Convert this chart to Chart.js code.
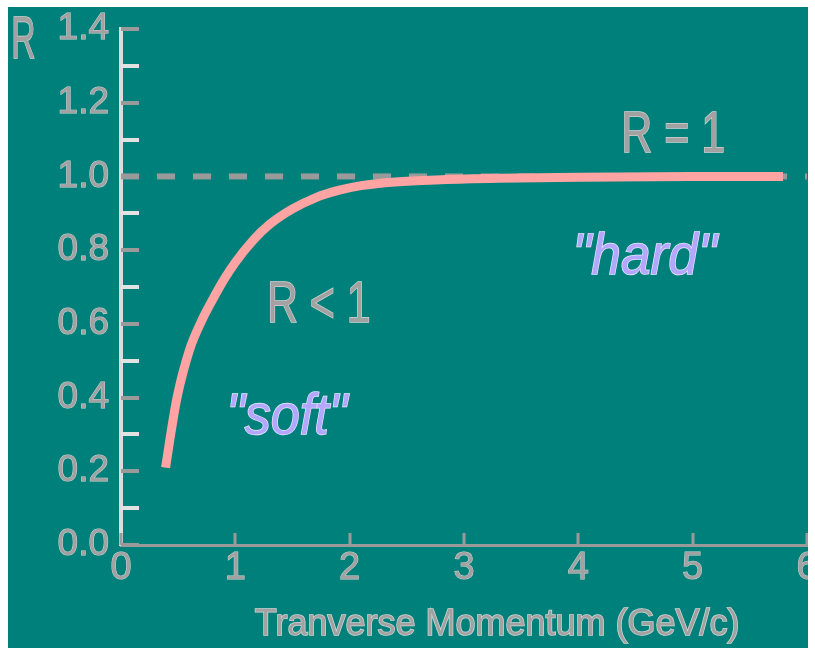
<!DOCTYPE html>
<html lang="en">
<head>
    <meta charset="UTF-8">
    <title>R vs Tranverse Momentum</title>
    <style>
        html, body {
            margin: 0;
            padding: 0;
            background-color: #ffffff;
        }

        #plot {
            position: absolute;
            left: 8px;
            top: 7px;
            width: 800px;
            height: 641px;
            background-color: #00807a;
        }
    </style>
    <script src="https://cdn.jsdelivr.net/npm/chart.js"></script>
</head>
<body>
    <div id="plot"><canvas id="ratioChart"></canvas></div>

    <script>
        // values
        const xTickLabels = ['0', '1', '2', '3', '4', '5', '6'];
        const yTickLabels = ['0.0', '0.2', '0.4', '0.6', '0.8', '1.0', '1.2', '1.4'];

        const curveX = [0.39, 0.45, 0.49, 0.60, 0.70, 0.80, 0.90, 1.00, 1.15, 1.30, 1.50, 1.70, 1.90, 2.10, 2.40, 2.80, 3.30, 4.00, 5.00, 5.79];
        const curveY = [0.21, 0.33, 0.40, 0.53, 0.605, 0.665, 0.72, 0.767, 0.825, 0.87, 0.912, 0.942, 0.962, 0.975, 0.985, 0.991, 0.995, 0.998, 1.0, 1.0];

        const refX = [0, 6];
        const refY = [1, 1];

        const noteText = ['R', 'R = 1', 'R < 1', '"soft"', '"hard"', 'Tranverse Momentum (GeV/c)'];
        const noteX = [-0.853, 4.83, 1.73, 1.45, 4.58, 3.29];
        const noteY = [1.366, 1.11, 0.648, 0.345, 0.78, -0.217];

        const GRAY = '#a2a2a2';
        const GRAY_EDGE = '#d4d4d4';
        const PURPLE = '#b3a7ff';
        const PURPLE_EDGE = '#ece8ff';

        // font / colour / squeeze for each note, same order as noteText
        const noteStyle = [
            { size: 60, italic: false, color: GRAY, edge: GRAY_EDGE, sx: 0.56 },
            { size: 58, italic: false, color: GRAY, edge: GRAY_EDGE, sx: 0.74 },
            { size: 58, italic: false, color: GRAY, edge: GRAY_EDGE, sx: 0.74 },
            { size: 58, italic: true, color: PURPLE, edge: PURPLE_EDGE, sx: 0.9 },
            { size: 58, italic: true, color: PURPLE, edge: PURPLE_EDGE, sx: 0.92 },
            { size: 36, italic: false, color: GRAY, edge: GRAY_EDGE, sx: 1 }
        ];

        const FONT = "'Liberation Sans', Arial, sans-serif";

        // tick marks drawn inside the plot, like the original
        const innerTicks = {
            id: 'innerTicks',
            beforeDatasetsDraw(chart) {
                const ctx = chart.ctx;
                const xs = chart.scales.x;
                const ys = chart.scales.y;
                ctx.save();
                ys.ticks.forEach(t => {
                    const py = Math.round(ys.getPixelForValue(t.value));
                    const major = yTickLabels.includes(t.value.toFixed(1));
                    ctx.fillStyle = major ? '#9a9a9a' : '#e2e2e2';
                    ctx.fillRect(ys.right, py - 2, 18, 4);
                });
                xs.ticks.forEach(t => {
                    const px = Math.round(xs.getPixelForValue(t.value));
                    ctx.fillStyle = '#9a9a9a';
                    ctx.fillRect(px - 1.5, xs.top - 12, 3, 12);
                });
                ctx.restore();
            }
        };

        const notes = {
            id: 'notes',
            afterDraw(chart) {
                const ctx = chart.ctx;
                const xs = chart.scales.x;
                const ys = chart.scales.y;
                noteText.forEach((txt, i) => {
                    const st = noteStyle[i];
                    ctx.save();
                    ctx.translate(xs.getPixelForValue(noteX[i]), ys.getPixelForValue(noteY[i]));
                    ctx.scale(st.sx, 1);
                    ctx.font = (st.italic ? 'italic ' : '') + st.size + 'px ' + FONT;
                    ctx.textAlign = 'center';
                    ctx.textBaseline = 'middle';
                    ctx.lineWidth = 1.5;
                    ctx.strokeStyle = st.edge;
                    ctx.strokeText(txt, 0, 0);
                    ctx.fillStyle = st.color;
                    ctx.fillText(txt, 0, 0);
                    ctx.restore();
                });
            }
        };

        new Chart(document.getElementById('ratioChart'), {
            type: 'line',
            data: {
                datasets: [
                    {
                        label: 'R',
                        data: curveX.map((x, i) => ({ x: x, y: curveY[i] })),
                        borderColor: '#ffa3a3',
                        borderWidth: 9,
                        borderCapStyle: 'butt',
                        cubicInterpolationMode: 'monotone',
                        pointRadius: 0,
                        fill: false
                    },
                    {
                        label: 'R = 1',
                        data: refX.map((x, i) => ({ x: x, y: refY[i] })),
                        borderColor: '#9a9a9a',
                        borderWidth: 6,
                        borderDash: [18, 18],
                        borderCapStyle: 'butt',
                        pointRadius: 0,
                        fill: false
                    }
                ]
            },
            options: {
                responsive: true,
                maintainAspectRatio: false,
                animation: false,
                layout: { padding: { top: 22, right: 1, left: 0, bottom: 0 } },
                plugins: {
                    legend: { display: false },
                    tooltip: { enabled: false }
                },
                scales: {
                    x: {
                        type: 'linear',
                        min: 0,
                        max: 6,
                        grid: { display: false },
                        border: { display: true, color: '#9a9a9a', width: 3 },
                        ticks: {
                            stepSize: 1,
                            autoSkip: false,
                            maxRotation: 0,
                            padding: -7,
                            color: GRAY,
                            textStrokeColor: GRAY_EDGE,
                            textStrokeWidth: 1,
                            font: { family: FONT, size: 38 },
                            callback: v => xTickLabels[v] ?? ''
                        },
                        afterFit(s) {
                            s.height = 103;
                            s.paddingLeft = 0;
                            s.paddingRight = 0;
                        }
                    },
                    y: {
                        min: 0,
                        max: 1.4,
                        grid: { display: false },
                        border: { display: true, color: '#dcdcdc', width: 4 },
                        ticks: {
                            stepSize: 0.1,
                            autoSkip: false,
                            padding: 4,
                            color: GRAY,
                            textStrokeColor: GRAY_EDGE,
                            textStrokeWidth: 1,
                            font: { family: FONT, size: 37 },
                            callback: v => {
                                const s = Number(v).toFixed(1);
                                return yTickLabels.includes(s) ? s : '';
                            }
                        },
                        afterFit(s) {
                            s.width = 113;
                            s.paddingTop = 0;
                            s.paddingBottom = 0;
                        }
                    }
                }
            },
            plugins: [innerTicks, notes]
        });
    </script>
</body>
</html>
